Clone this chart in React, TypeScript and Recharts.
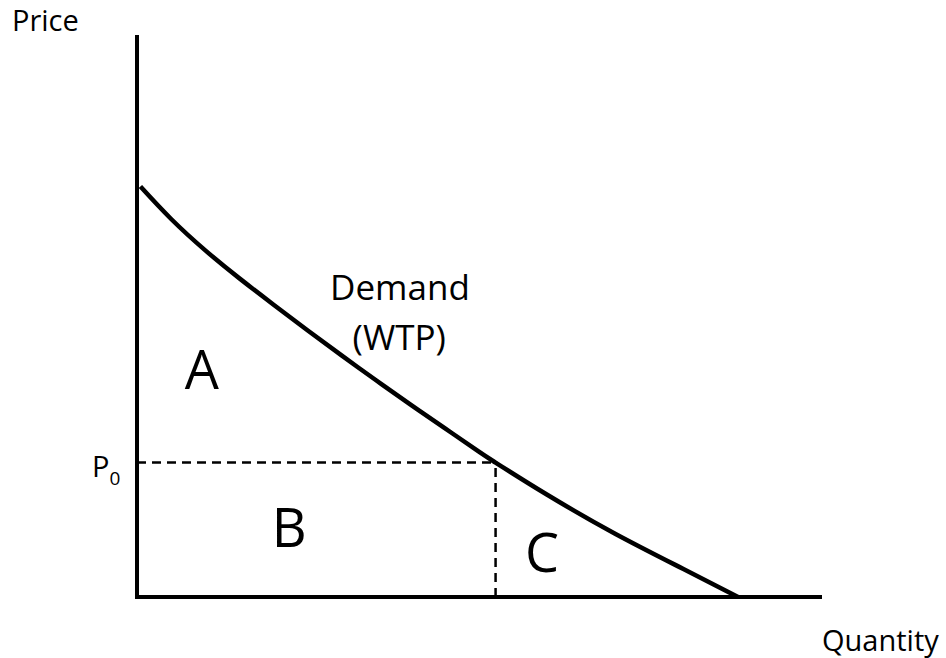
import { ComposedChart, Line, XAxis, YAxis, ReferenceLine, ReferenceDot, Label } from 'recharts';

const quantity = [0.05, 0.5, 1, 1.5, 2, 2.5, 3, 3.5, 4, 4.5, 5, 5.25, 6, 7, 8, 8.8];
const price = [7.33, 6.75, 6.19, 5.69, 5.22, 4.76, 4.31, 3.87, 3.44, 3.02, 2.6, 2.4, 1.83, 1.13, 0.5, 0];

const P0 = 2.4;
const Q0 = 5.25;
const X_MAX = 10;
const Y_MAX = 10;

const data = quantity.map((q, i) => ({ q, price: price[i] }));

const FONT = '"Open Sans", sans-serif';

// plain text anchored at a data point (r=0 reference dot)
function big(text: string, size: number) {
  return <Label value={text} position="center" fontSize={size} fill="#000" fontFamily={FONT} />;
}

function PriceLabel(props: any) {
  const { x, y } = props.viewBox;
  return (
    <text x={x - 125} y={y - 6} fontSize={29} fill="#000" fontFamily={FONT}>
      Price
    </text>
  );
}

function QuantityLabel(props: any) {
  const { x, y } = props.viewBox;
  return (
    <text x={x + 2} y={y + 54} fontSize={29} fill="#000" fontFamily={FONT}>
      Quantity
    </text>
  );
}

function P0Label(props: any) {
  const { x, y } = props.viewBox;
  return (
    <text x={x - 45} y={y + 14} fontSize={29} fill="#000" fontFamily={FONT}>
      P<tspan fontSize={19} dy={8}>0</tspan>
    </text>
  );
}

export default function App() {
  return (
    <div style={{ position: 'absolute', left: 0, top: 0, fontFamily: FONT, background: '#fff' }}>
      <ComposedChart width={946} height={658} data={data} margin={{ top: 37, right: 126, bottom: 61, left: 137 }}>
        <XAxis dataKey="q" type="number" domain={[0, X_MAX]} hide />
        <YAxis type="number" domain={[0, Y_MAX]} hide />
        <ReferenceLine
          segment={[{ x: 0, y: P0 }, { x: Q0, y: P0 }]}
          stroke="#000"
          strokeWidth={2.5}
          strokeDasharray="9 6"
        />
        <ReferenceLine
          segment={[{ x: Q0, y: 0 }, { x: Q0, y: P0 }]}
          stroke="#000"
          strokeWidth={2.5}
          strokeDasharray="9 6"
        />
        <ReferenceLine x={0} stroke="#000" strokeWidth={4} strokeLinecap="square" />
        <ReferenceLine y={0} stroke="#000" strokeWidth={4} strokeLinecap="square" />
        <Line
          type="natural"
          dataKey="price"
          stroke="#000"
          strokeWidth={4.5}
          dot={false}
          activeDot={false}
          isAnimationActive={false}
        />
        <ReferenceDot x={0} y={Y_MAX} r={0} stroke="none" fill="none" ifOverflow="visible" label={<Label content={PriceLabel} />} />
        <ReferenceDot x={X_MAX} y={0} r={0} stroke="none" fill="none" ifOverflow="visible" label={<Label content={QuantityLabel} />} />
        <ReferenceDot x={0} y={P0} r={0} stroke="none" fill="none" ifOverflow="visible" label={<Label content={P0Label} />} />
        <ReferenceDot x={3.85} y={5.53} r={0} stroke="none" fill="none" label={big('Demand', 35)} />
        <ReferenceDot x={3.84} y={4.63} r={0} stroke="none" fill="none" label={big('(WTP)', 35)} />
        <ReferenceDot x={0.95} y={4.05} r={0} stroke="none" fill="none" label={big('A', 54)} />
        <ReferenceDot x={2.23} y={1.23} r={0} stroke="none" fill="none" label={big('B', 54)} />
        <ReferenceDot x={5.93} y={0.79} r={0} stroke="none" fill="none" label={big('C', 54)} />
      </ComposedChart>
    </div>
  );
}
